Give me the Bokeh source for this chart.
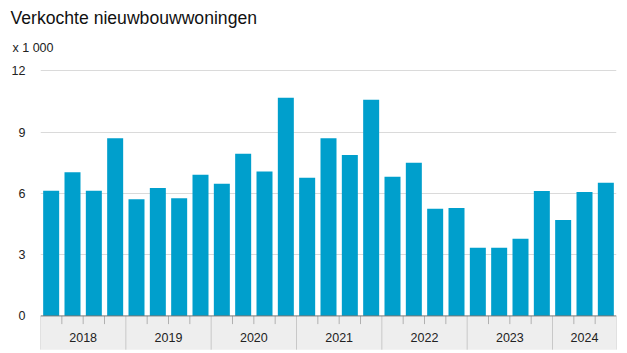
from bokeh.plotting import figure
from bokeh.models import Range1d, FixedTicker, Title, ColumnDataSource
from bokeh.core.properties import value
from bokeh.embed import file_html
from bokeh.resources import INLINE

years = ["2018", "2019", "2020", "2021", "2022", "2023", "2024"]
quarters_per_year = [4, 4, 4, 4, 4, 4, 3]
values = [6.13, 7.03, 6.13, 8.69,
          5.71, 6.26, 5.76, 6.91,
          6.47, 7.94, 7.07, 10.68,
          6.76, 8.69, 7.88, 10.58,
          6.81, 7.49, 5.24, 5.28,
          3.33, 3.33, 3.78, 6.11,
          4.69, 6.06, 6.52]
y_ticks = [0, 3, 6, 9, 12]

FONT = "Liberation Sans"
n = len(values)
x = [i + 0.5 for i in range(n)]

p = figure(width=627, height=353, output_backend="svg", toolbar_location=None,
           x_range=Range1d(0, n), y_range=Range1d(-1.79, 12.45),
           min_border_left=40, min_border_right=11, min_border_bottom=1,
           min_border_top=61, title=None)
p.outline_line_color = None
p.background_fill_color = "white"
p.border_fill_color = "white"

sub = Title(text="x 1 000", text_font=FONT, text_font_size="12.5px",
            text_font_style="normal", text_color="#222222", offset=-28, standoff=14)
p.add_layout(sub, "above")
main = Title(text="Verkochte nieuwbouwwoningen", text_font=FONT, text_font_size="17.6px",
             text_font_style="normal", text_color="#111111", offset=-30, standoff=8)
p.add_layout(main, "above")

p.xaxis.visible = False
p.xgrid.visible = False
p.yaxis.ticker = FixedTicker(ticks=y_ticks)
p.yaxis.axis_line_color = None
p.yaxis.major_tick_line_color = None
p.yaxis.minor_tick_line_color = None
p.yaxis.major_label_text_font = FONT
p.yaxis.major_label_text_font_size = "12.5px"
p.yaxis.major_label_text_color = "#222222"
p.yaxis.major_label_standoff = 9
p.ygrid.ticker = FixedTicker(ticks=y_ticks[1:])
p.ygrid.grid_line_color = "#dadada"
p.ygrid.grid_line_width = 1

# axis band
p.quad(left=[0], right=[n], bottom=[-1.65], top=[0], fill_color="#eeeeee",
       line_color=None)

# bars
src = ColumnDataSource(dict(x=x, v=values))
p.vbar(x="x", top="v", bottom=0, width=0.75, source=src,
       fill_color="#009fcc", line_color=None)

# separators and ticks
bounds = [0]
for q in quarters_per_year:
    bounds.append(bounds[-1] + q)
year_mid = [(bounds[i] + bounds[i + 1]) / 2 for i in range(len(years))]
p.segment(x0=bounds, x1=bounds, y0=[0] * len(bounds), y1=[-1.65] * len(bounds),
          line_color="#c8c8c8", line_width=1)
qticks = [i for i in range(1, n) if i not in bounds]
p.segment(x0=qticks, x1=qticks, y0=[0] * len(qticks), y1=[-0.4] * len(qticks),
          line_color="#b0b0b0", line_width=1)
p.segment(x0=[0], x1=[n], y0=[0], y1=[0], line_color="#777777", line_width=1)

p.text(x=year_mid, y=[-1.05] * len(years), text=years, text_align="center",
       text_baseline="middle", text_font=value(FONT),
       text_font_size="12.5px", text_color="#222222")

open("out.html", "w").write(file_html(p, INLINE))
